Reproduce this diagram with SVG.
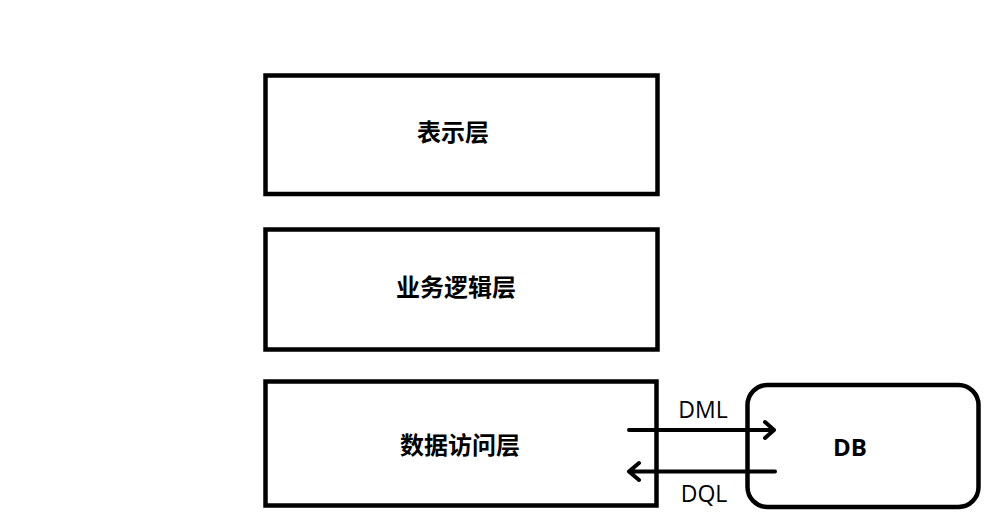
<svg xmlns="http://www.w3.org/2000/svg" width="996" height="530" viewBox="0 0 996 530">
<style>
.box{fill:#fff;stroke:#000;stroke-width:4.5}
.cn{font-family:"Noto Sans CJK SC","Noto Sans",sans-serif;font-weight:bold;font-size:24px;fill:#000;text-anchor:middle}
.lbl{font-family:"Open Sans","Noto Sans",sans-serif;font-size:23px;fill:#000;text-anchor:middle}
.db{font-family:"Open Sans","Noto Sans",sans-serif;font-weight:bold;font-size:24px;fill:#000;text-anchor:middle}
.conn{fill:none;stroke:#000;stroke-width:4;stroke-linecap:round;stroke-linejoin:round}
</style>
<rect width="996" height="530" fill="#fff"/>
<g id="presentation">
<rect class="box" x="265.5" y="75.5" width="392" height="118.5"/>
<text class="cn" x="453" y="141">表示层</text>
</g>
<g id="business">
<rect class="box" x="265.5" y="229.5" width="392" height="120"/>
<text class="cn" x="456" y="296">业务逻辑层</text>
</g>
<g id="dataaccess">
<rect class="box" x="265.5" y="381.5" width="391" height="124"/>
<text class="cn" x="460" y="454">数据访问层</text>
</g>
<g id="db">
<rect class="box" x="747.5" y="385" width="231" height="122" rx="20" ry="20"/>
<text class="db" x="850" y="456">DB</text>
</g>
<g id="connectors">
<path class="conn" d="M629 430 H774 M765 422 L774 430 L765 438"/>
<path class="conn" d="M775 471.5 H629 M639 463 L629 471.5 L639 480"/>
<text class="lbl" x="703" y="418">DML</text>
<text class="lbl" x="704" y="502">DQL</text>
</g>
</svg>
